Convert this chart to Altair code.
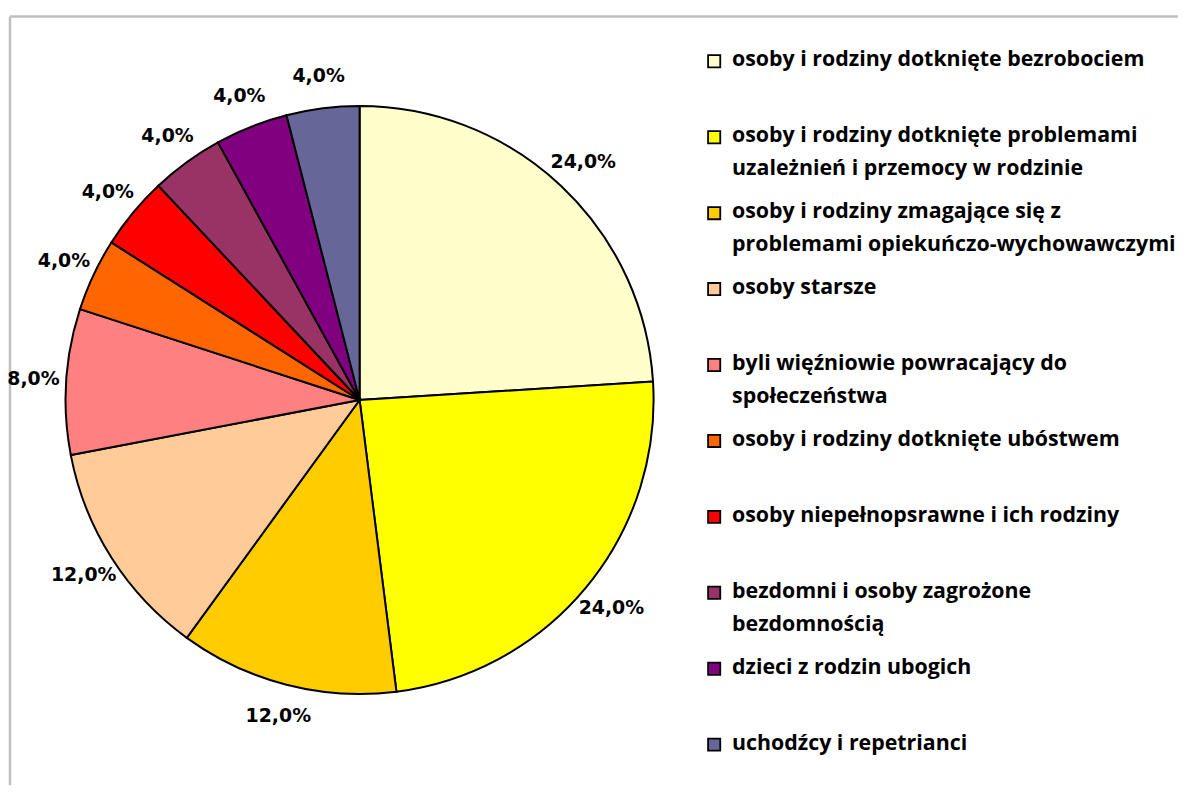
import altair as alt
import pandas as pd

categories = [
    "osoby i rodziny dotknięte bezrobociem",
    "osoby i rodziny dotknięte problemami uzależnień i przemocy w rodzinie",
    "osoby i rodziny zmagające się z problemami opiekuńczo-wychowawczymi",
    "osoby starsze",
    "byli więźniowie powracający do społeczeństwa",
    "osoby i rodziny dotknięte ubóstwem",
    "osoby niepełnopsrawne i ich rodziny",
    "bezdomni i osoby zagrożone bezdomnością",
    "dzieci z rodzin ubogich",
    "uchodźcy i repetrianci",
]
legend_labels = [
    "osoby i rodziny dotknięte bezrobociem",
    "osoby i rodziny dotknięte problemami\nuzależnień i przemocy w rodzinie",
    "osoby i rodziny zmagające się z\nproblemami opiekuńczo-wychowawczymi",
    "osoby starsze",
    "byli więźniowie powracający do\nspołeczeństwa",
    "osoby i rodziny dotknięte ubóstwem",
    "osoby niepełnopsrawne i ich rodziny",
    "bezdomni i osoby zagrożone\nbezdomnością",
    "dzieci z rodzin ubogich",
    "uchodźcy i repetrianci",
]
values = [24.0, 24.0, 12.0, 12.0, 8.0, 4.0, 4.0, 4.0, 4.0, 4.0]
colors = ["#FFFFCC", "#FFFF00", "#FFCC00", "#FFCC99", "#FF8080",
          "#FF6600", "#FF0000", "#993366", "#800080", "#666699"]

pct_labels = [f"{v:.1f}%".replace(".", ",") for v in values]

df = pd.DataFrame({
    "cat": categories,
    "value": values,
    "idx": list(range(len(categories))),
    "pct": pct_labels,
    "legend": legend_labels,
})

CX, CY = 352, 386
W, H = 1176, 774

color = alt.Color("cat:N", scale=alt.Scale(domain=categories, range=colors), legend=None)
theta = alt.Theta("value:Q", stack=True)
order = alt.Order("idx:Q")

base = alt.Chart(df)

pie = base.mark_arc(radius=296, stroke="black", strokeWidth=2).encode(
    theta=theta, color=color, order=order,
    x=alt.value(CX), y=alt.value(CY),
)

labels = base.mark_text(
    radius=329, font="DejaVu Sans", fontWeight="bold", fontSize=19, color="black"
).encode(
    theta=theta, order=order, text="pct:N",
    x=alt.value(CX), y=alt.value(CY),
)

ysc = alt.Y("cat:N", sort=categories,
            scale=alt.Scale(type="point", range=[45, 733], padding=0),
            axis=None)

swatch = base.mark_square(size=150, stroke="black", strokeWidth=1.8,
                          filled=True, opacity=1).encode(
    y=ysc, x=alt.value(709), color=color,
)

legend_text = base.mark_text(
    align="left", baseline="top", font="Open Sans", fontWeight="bold",
    fontSize=21.5, lineBreak="\n", lineHeight=33, dy=-12, color="black"
).encode(
    y=ysc, x=alt.value(727), text="legend:N",
)

frame_df = pd.DataFrame({"k": [0]})
top_rule = alt.Chart(frame_df).mark_rule(color="#C0C0C0", strokeWidth=2.5).encode(
    x=alt.value(0), x2=alt.value(W), y=alt.value(0)
)
left_rule = alt.Chart(frame_df).mark_rule(color="#C0C0C0", strokeWidth=2.5).encode(
    x=alt.value(0), y=alt.value(0), y2=alt.value(H)
)

chart = alt.layer(top_rule, left_rule, pie, labels, swatch, legend_text).properties(
    width=W, height=H,
    padding={"left": 2, "top": 6, "right": 0, "bottom": 0},
    autosize=alt.AutoSizeParams(type="none"),
    background="white",
).configure_view(stroke="transparent")

chart.save("out.html", embed_options={"renderer": "svg", "actions": False})
